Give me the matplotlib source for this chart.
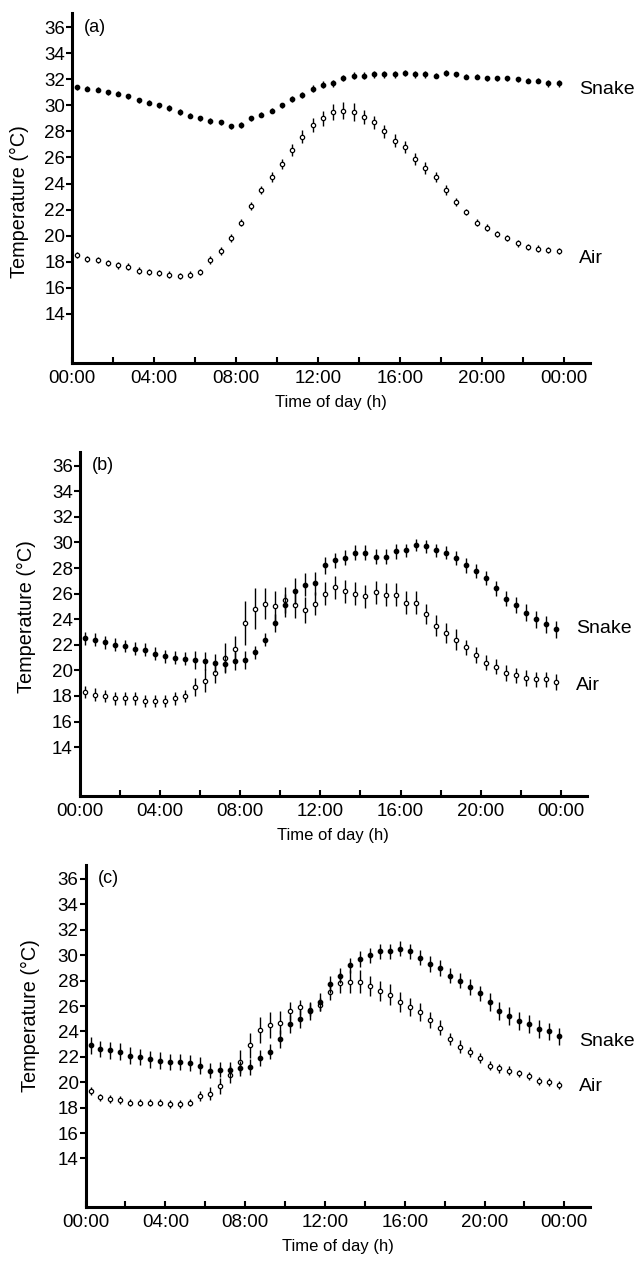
import matplotlib
matplotlib.use("Agg")
import matplotlib.pyplot as plt
import numpy as np

plt.rcParams['font.family'] = ['Liberation Sans', 'DejaVu Sans']

# half-hourly sampling times (h), 00:15 ... 23:45
hours = np.arange(0.25, 24.0, 0.5)

# panel (a)
snake_a = [31.4, 31.3, 31.2, 31.0, 30.9, 30.7, 30.4, 30.2, 30.0, 29.8, 29.5, 29.2,
           29.0, 28.8, 28.7, 28.4, 28.5, 29.0, 29.3, 29.6, 30.0, 30.5, 30.8, 31.3,
           31.6, 31.7, 32.1, 32.3, 32.3, 32.4, 32.4, 32.4, 32.5, 32.4, 32.4, 32.3,
           32.5, 32.4, 32.2, 32.2, 32.1, 32.1, 32.1, 32.0, 31.9, 31.9, 31.7, 31.7]
snake_a_err = [0.2, 0.2, 0.2, 0.2, 0.2, 0.2, 0.2, 0.2, 0.2, 0.2, 0.2, 0.2,
               0.2, 0.2, 0.2, 0.2, 0.2, 0.2, 0.2, 0.2, 0.2, 0.25, 0.25, 0.25,
               0.25, 0.25, 0.25, 0.25, 0.25, 0.25, 0.25, 0.25, 0.25, 0.25, 0.25, 0.2,
               0.2, 0.2, 0.2, 0.2, 0.2, 0.2, 0.2, 0.2, 0.2, 0.2, 0.25, 0.25]
air_a = [18.5, 18.2, 18.1, 17.9, 17.7, 17.6, 17.3, 17.2, 17.1, 17.0, 16.9, 17.0,
         17.2, 18.1, 18.8, 19.8, 21.0, 22.3, 23.5, 24.5, 25.5, 26.6, 27.6, 28.5,
         29.0, 29.5, 29.6, 29.5, 29.1, 28.7, 28.0, 27.3, 26.8, 25.9, 25.2, 24.5,
         23.5, 22.6, 21.8, 21.0, 20.6, 20.1, 19.8, 19.4, 19.1, 19.0, 18.9, 18.8]
air_a_err = [0.25, 0.25, 0.25, 0.25, 0.25, 0.25, 0.25, 0.25, 0.25, 0.25, 0.25, 0.25,
             0.25, 0.3, 0.3, 0.3, 0.3, 0.3, 0.3, 0.4, 0.4, 0.45, 0.5, 0.55,
             0.6, 0.6, 0.65, 0.7, 0.55, 0.5, 0.5, 0.5, 0.45, 0.45, 0.45, 0.4,
             0.35, 0.3, 0.25, 0.25, 0.25, 0.25, 0.25, 0.25, 0.25, 0.25, 0.25, 0.25]

# panel (b)
snake_b = [22.5, 22.4, 22.2, 22.0, 21.9, 21.7, 21.6, 21.3, 21.1, 21.0, 20.9, 20.8,
           20.7, 20.6, 20.5, 20.7, 20.8, 21.4, 22.4, 23.7, 25.1, 26.2, 26.7, 26.8,
           28.2, 28.6, 28.8, 29.2, 29.2, 28.9, 28.9, 29.3, 29.4, 29.8, 29.7, 29.4,
           29.2, 28.8, 28.2, 27.8, 27.2, 26.4, 25.6, 25.1, 24.5, 24.0, 23.6, 23.2]
snake_b_err = [0.5, 0.5, 0.5, 0.5, 0.5, 0.5, 0.5, 0.5, 0.5, 0.5, 0.5, 0.7,
               0.7, 0.7, 0.7, 0.7, 0.7, 0.5, 0.5, 0.7, 0.9, 1.0, 0.9, 0.9,
               0.7, 0.6, 0.6, 0.6, 0.6, 0.6, 0.6, 0.6, 0.5, 0.5, 0.5, 0.5,
               0.5, 0.55, 0.55, 0.55, 0.55, 0.6, 0.6, 0.6, 0.65, 0.65, 0.65, 0.65]
air_b = [18.3, 18.1, 18.0, 17.8, 17.8, 17.8, 17.6, 17.6, 17.6, 17.8, 18.0, 18.7,
         19.2, 19.8, 21.0, 21.7, 23.7, 24.8, 25.2, 25.0, 25.5, 25.1, 24.7, 25.2,
         26.0, 26.5, 26.2, 26.0, 25.8, 26.1, 25.9, 25.9, 25.3, 25.3, 24.4, 23.5,
         22.9, 22.4, 21.8, 21.2, 20.6, 20.3, 19.8, 19.6, 19.4, 19.3, 19.3, 19.1]
air_b_err = [0.5, 0.5, 0.5, 0.5, 0.5, 0.5, 0.5, 0.5, 0.5, 0.5, 0.5, 0.7,
             0.9, 0.8, 1.1, 1.0, 1.7, 1.6, 1.2, 1.2, 1.0, 1.0, 1.0, 0.9,
             0.9, 0.9, 0.9, 0.9, 0.9, 0.9, 0.9, 0.9, 0.9, 0.9, 0.8, 0.8,
             0.8, 0.8, 0.6, 0.6, 0.6, 0.6, 0.6, 0.6, 0.6, 0.6, 0.6, 0.6]

# panel (c)
snake_c = [22.9, 22.6, 22.5, 22.4, 22.1, 22.0, 21.8, 21.7, 21.6, 21.6, 21.5, 21.3,
           20.9, 21.0, 21.0, 21.1, 21.2, 21.9, 22.4, 23.4, 24.6, 25.0, 25.6, 26.3,
           27.7, 28.4, 29.2, 29.7, 30.0, 30.3, 30.3, 30.5, 30.3, 29.8, 29.3, 29.0,
           28.4, 28.0, 27.5, 27.0, 26.3, 25.6, 25.2, 24.8, 24.6, 24.2, 24.0, 23.6]
snake_c_err = [0.65, 0.65, 0.65, 0.65, 0.65, 0.65, 0.65, 0.65, 0.65, 0.65, 0.65, 0.65,
               0.6, 0.6, 0.6, 0.6, 0.6, 0.6, 0.6, 0.7, 0.7, 0.7, 0.7, 0.7,
               0.7, 0.6, 0.6, 0.6, 0.6, 0.6, 0.6, 0.6, 0.6, 0.6, 0.6, 0.6,
               0.6, 0.6, 0.6, 0.6, 0.7, 0.7, 0.7, 0.7, 0.7, 0.7, 0.7, 0.7]
air_c = [19.3, 18.8, 18.7, 18.6, 18.4, 18.4, 18.4, 18.4, 18.3, 18.3, 18.4, 18.9,
         19.1, 19.7, 20.6, 21.6, 22.9, 24.1, 24.5, 24.7, 25.6, 25.9, 25.7, 26.1,
         27.1, 27.8, 27.9, 27.9, 27.6, 27.2, 26.9, 26.3, 25.9, 25.5, 24.9, 24.3,
         23.4, 22.8, 22.4, 21.9, 21.3, 21.1, 20.9, 20.7, 20.5, 20.1, 20.0, 19.8]
air_c_err = [0.3, 0.3, 0.3, 0.3, 0.3, 0.3, 0.3, 0.3, 0.3, 0.3, 0.3, 0.4,
             0.5, 0.6, 0.7, 0.9, 1.0, 1.0, 1.0, 0.9, 0.7, 0.6, 0.5, 0.5,
             0.6, 0.8, 0.9, 0.9, 0.8, 0.8, 0.8, 0.8, 0.7, 0.7, 0.6, 0.6,
             0.5, 0.5, 0.4, 0.4, 0.35, 0.35, 0.35, 0.3, 0.3, 0.3, 0.3, 0.3]

panel_labels = ['(a)', '(b)', '(c)']
tick_hours = [0, 4, 8, 12, 16, 20, 24]
tick_labels = ['00:00', '04:00', '08:00', '12:00', '16:00', '20:00', '00:00']
temp_ticks = [14, 16, 18, 20, 22, 24, 26, 28, 30, 32, 34, 36]

panels = [
    (snake_a, snake_a_err, air_a, air_a_err, [0.112, 0.7126, 0.806, 0.277], 31.2, 18.2, (-0.083, 0.46)),
    (snake_b, snake_b_err, air_b, air_b_err, [0.124, 0.370, 0.789, 0.2724], 23.3, 18.8, (-0.087, 0.52)),
    (snake_c, snake_c_err, air_c, air_c_err, [0.133, 0.0446, 0.785, 0.2705], 23.2, 19.7, (-0.091, 0.56)),
]

fig = plt.figure(figsize=(6.43, 12.63), dpi=100)

for i, (snake, snake_err, air, air_err, rect, snake_y, air_y, ylab_xy) in enumerate(panels):
    ax = fig.add_axes(rect)
    ax.errorbar(hours, air, yerr=air_err, fmt='o', ms=3.1, mfc='white', mec='black',
                mew=0.9, ecolor='black', elinewidth=1.0, capsize=0, zorder=3)
    ax.errorbar(hours, snake, yerr=snake_err, fmt='o', ms=3.1, mfc='black', mec='black',
                ecolor='black', elinewidth=1.0, capsize=0, zorder=4)

    ax.set_xlim(0, 25.3)
    ax.set_ylim(10.2, 37.1)
    ax.set_xticks(tick_hours)
    ax.set_xticklabels(tick_labels)
    ax.set_xticks([2, 6, 10, 14, 18, 22], minor=True)
    ax.set_yticks(temp_ticks)
    ax.tick_params(axis='x', which='both', direction='in', length=4, width=1.5,
                   labelsize=13.5, pad=5)
    ax.tick_params(axis='y', direction='out', length=4, width=1.5, labelsize=13.5, pad=1)

    for side in ['top', 'right']:
        ax.spines[side].set_visible(False)
    for side in ['left', 'bottom']:
        ax.spines[side].set_linewidth(2.2)

    ax.set_xlabel('Time of day (h)', fontsize=12, labelpad=6,
                  family=['Liberation Sans Narrow', 'Liberation Sans'])
    ax.set_ylabel('Temperature (°C)', fontsize=14.3)
    ax.yaxis.set_label_coords(*ylab_xy)
    ax.text(0.6, 36, panel_labels[i], fontsize=13, va='center')
    ax.text(24.75, snake_y, 'Snake', fontsize=14, va='center', clip_on=False)
    ax.text(24.75, air_y, 'Air', fontsize=14, va='center', clip_on=False)

fig.savefig('out.png', dpi=100)
